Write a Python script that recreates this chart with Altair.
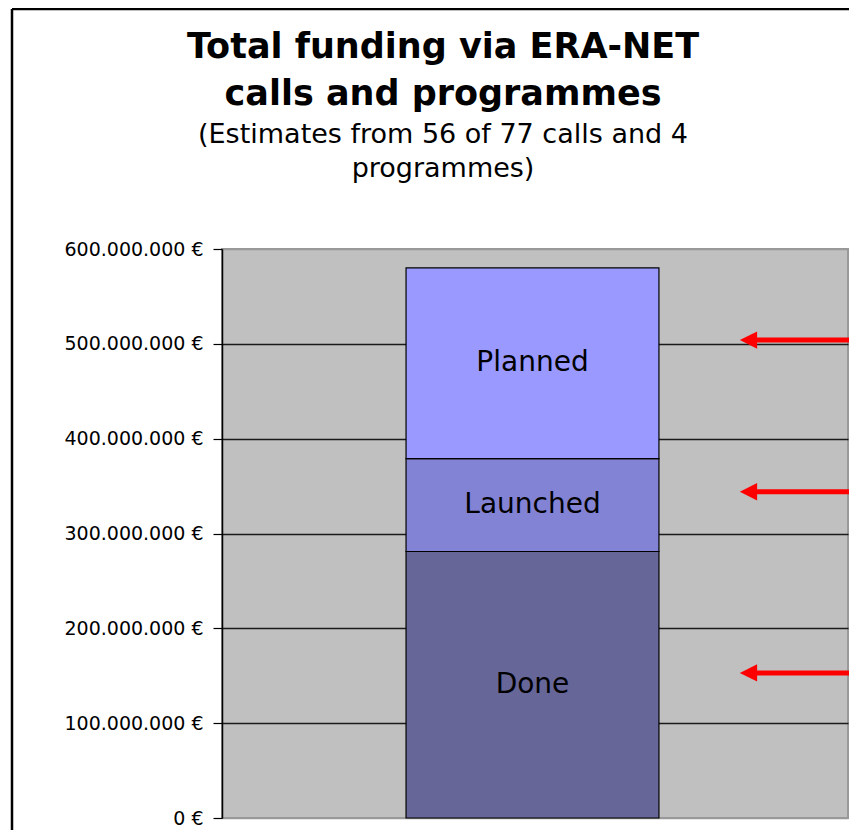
import altair as alt
import pandas as pd

# ---- data ----
segments = ["Done", "Launched", "Planned"]
amounts = [281_000_000, 98_000_000, 201_000_000]
seg_colors = ["#666699", "#8383D6", "#9999FF"]
arrow_targets = [504_000_000, 344_000_000, 153_000_000]
y_ticks = [0, 100_000_000, 200_000_000, 300_000_000, 400_000_000, 500_000_000, 600_000_000]

title_lines = ["Total funding via ERA-NET", "calls and programmes"]
subtitle_lines = ["(Estimates from 56 of 77 calls and 4", "programmes)"]

# stacked table built from the arrays
tops = []
run = 0
for a in amounts:
    run += a
    tops.append(run)
bars = pd.DataFrame({
    "segment": segments,
    "amount": amounts,
    "y1": tops,
    "y0": [t - a for t, a in zip(tops, amounts)],
})
arrows = pd.DataFrame({"target": arrow_targets})
one = pd.DataFrame({"k": [0]})

FONT = "DejaVu Sans"

xscale = alt.Scale(domain=[0, 1], nice=False, zero=False)
yscale = alt.Scale(domain=[0, 600_000_000], nice=False, zero=True)

label_expr = "datum.value == 0 ? '0 €' : format(datum.value / 1000000, 'd') + '.000.000 €'"

yaxis = alt.Axis(
    values=y_ticks,
    labelExpr=label_expr,
    title=None,
    grid=True,
    gridColor={"condition": {"test": "datum.value == 0 || datum.value == 600000000", "value": "#999999"},
               "value": "#1a1a1a"},
    gridWidth=1.6,
    domainColor="black",
    domainWidth=1.5,
    tickColor="black",
    tickSize=9,
    tickWidth=1.2,
    labelFont=FONT,
    labelFontSize=19,
    labelColor="black",
    labelPadding=10,
)

bar = alt.Chart(bars).mark_bar(stroke="black", strokeWidth=1.2).encode(
    x=alt.datum(0.294, scale=xscale, axis=None),
    x2=alt.datum(0.698),
    y=alt.Y("y0:Q", scale=yscale, axis=yaxis),
    y2="y1:Q",
    color=alt.Color("segment:N", scale=alt.Scale(domain=segments, range=seg_colors), legend=None),
)

labels = alt.Chart(bars).transform_calculate(
    mid="(datum.y0 + datum.y1) / 2"
).mark_text(font=FONT, fontSize=28, color="black", baseline="middle", align="center").encode(
    x=alt.datum(0.496, scale=xscale),
    y=alt.Y("mid:Q", scale=yscale),
    text="segment:N",
)

arrow_line = alt.Chart(arrows).mark_rule(color="#FF0000", strokeWidth=5, clip=False).encode(
    x=alt.datum(0.852, scale=xscale),
    x2=alt.datum(1.05),
    y=alt.Y("target:Q", scale=yscale),
)

arrow_head = alt.Chart(arrows).mark_point(
    shape="M-1,0L1,-1L1,1Z", filled=True, color="#FF0000", opacity=1, size=300, strokeWidth=0
).encode(
    x=alt.datum(0.841, scale=xscale),
    y=alt.Y("target:Q", scale=yscale),
)

# outer frame of the original chart (left and top edges are visible)
frame_left = alt.Chart(one).mark_rule(color="black", strokeWidth=2.5, clip=False).encode(
    x=alt.value(-210), y=alt.value(-240), y2=alt.value(600)
)
frame_top = alt.Chart(one).mark_rule(color="black", strokeWidth=2.5, clip=False).encode(
    y=alt.value(-240), x=alt.value(-210), x2=alt.value(700)
)

chart = alt.layer(bar, labels, arrow_line, arrow_head, frame_left, frame_top).properties(
    width=626,
    height=569,
    background="white",
    padding={"left": 214, "top": 241, "right": 1, "bottom": 12},
    autosize=alt.AutoSizeParams(type="none"),
    title=alt.TitleParams(
        text=title_lines,
        subtitle=subtitle_lines,
        font=FONT,
        fontSize=35,
        fontWeight="bold",
        lineHeight=47,
        color="black",
        subtitleFont=FONT,
        subtitleFontSize=27,
        subtitleLineHeight=34,
        subtitleColor="black",
        subtitlePadding=10,
        anchor="middle",
        frame="group",
        dx=-92,
        offset=-174,
    ),
).configure_view(
    fill="#C0C0C0", stroke="#999999", strokeWidth=2
)

chart.save("out.html", embed_options={"renderer": "svg", "actions": False})
